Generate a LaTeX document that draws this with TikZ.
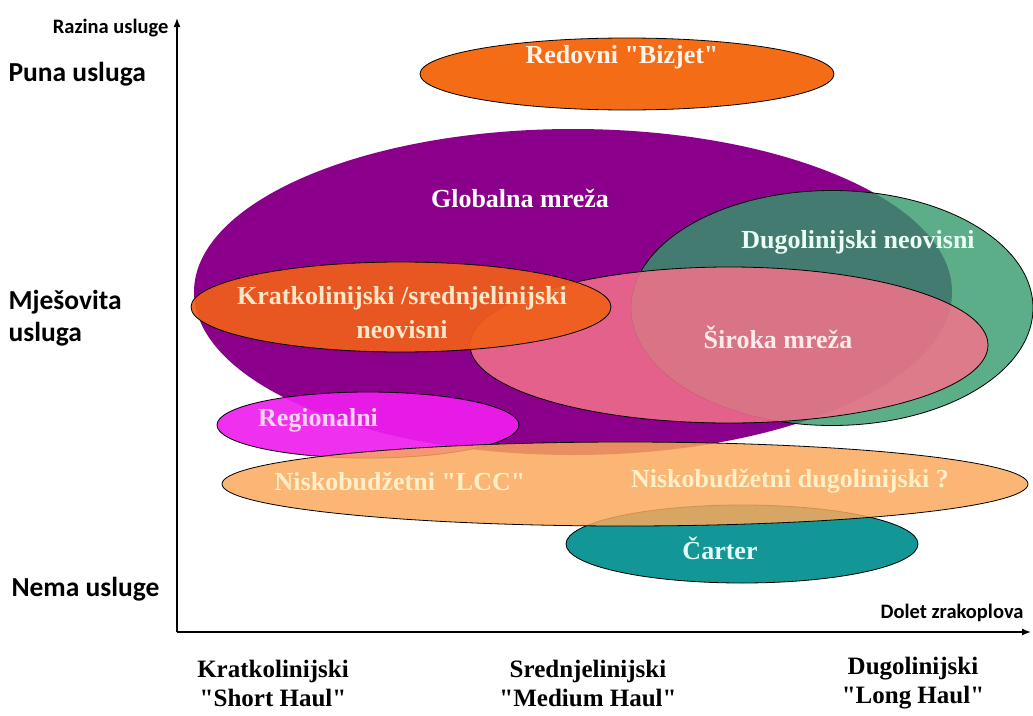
\documentclass[tikz,border=0pt]{standalone}
\usepackage{fontspec}
\setmainfont{Liberation Serif}[Ligatures=TeXOff]
\newfontfamily\calib{Carlito}[Ligatures=TeXOff]
\usetikzlibrary{arrows.meta, positioning, shapes.geometric}

\definecolor{ljubicasta}{RGB}{139,0,139}
\definecolor{zelena}{RGB}{50,154,106}
\definecolor{ruzicasta}{RGB}{244,115,140}
\definecolor{narancasta}{RGB}{240,95,25}
\definecolor{magenta}{RGB}{238,30,238}
\definecolor{svijetlonar}{RGB}{250,168,92}
\definecolor{tirkizna}{RGB}{18,150,150}
\definecolor{bizjet}{RGB}{245,108,22}

\begin{document}
\begin{tikzpicture}[x=1pt, y=-1pt,
    elipsa/.style={ellipse, inner sep=0pt, draw=black, line width=0.8pt},
    natpis/.style={font=\bfseries\fontsize{26}{34}\selectfont, align=center},
    razina/.style={font=\calib\bfseries\fontsize{27.5}{32}\selectfont, anchor=west},
    osi/.style={font=\calib\bfseries\fontsize{20.5}{24}\selectfont}]
    \useasboundingbox (0,0) rectangle (1033,715);

    % osi
    \coordinate (O) at (177,632);
    \coordinate (Y) at (177,18);
    \coordinate (X) at (1031,632);
    \draw[line width=1.4pt, -{Latex[length=9pt,width=7pt]}] (O) -- (Y);
    \draw[line width=1.4pt, -{Latex[length=9pt,width=7pt]}] (O) -- (X);
    \node[osi, anchor=east] (razinaOs) at (172,28) {Razina usluge};
    \node[osi, anchor=east] (doletOs) at (1027,613) {Dolet zrakoplova};

    % razine usluge
    \node[razina] (puna) at (5,74) {Puna usluga};
    \node[razina, align=left] (mjes) at (5,318) {Mješovita\\usluga};
    \node[razina] (nema) at (8,589) {Nema usluge};

    % dolet
    \foreach \x/\a/\b [count=\i] in {273/Kratkolinijski/"Short Haul", 588/Srednjelinijski/"Medium Haul", 913/Dugolinijski/"Long Haul"} {
        \node[font=\bfseries\fontsize{25}{29}\selectfont, align=center] (dolet\i) at (\x,683) {\a\\\b};
    }

    % elipse
    \node[elipsa, fill=bizjet, minimum width=414pt, minimum height=72pt] (bizjetE) at (627,74) {};
    \node[ellipse, fill=ljubicasta, minimum width=758pt, minimum height=326pt] (globalE) at (573,292) {};
    \node[elipsa, fill=zelena, fill opacity=0.8, minimum width=402pt, minimum height=235pt] (dugoE) at (832,308) {};
    \node[elipsa, fill=ruzicasta, fill opacity=0.85, minimum width=518pt, minimum height=156pt] (sirokaE) at (729,345) {};
    \node[elipsa, fill=narancasta, fill opacity=0.92, minimum width=420pt, minimum height=90pt] (kratkoE) at (401,307) {};
    \node[elipsa, fill=magenta, fill opacity=0.92, minimum width=302pt, minimum height=66pt] (regE) at (368,425) {};
    \node[elipsa, fill=tirkizna, minimum width=352pt, minimum height=78pt] (carterE) at (742,544) {};
    \node[elipsa, fill=svijetlonar, fill opacity=0.85, minimum width=806pt, minimum height=84pt] (niskoE) at (625,484) {};

    % natpisi
    \node[natpis, text={rgb,255:red,255;green,245;blue,235}] (bizjetT) at (622,57) {Redovni "Bizjet"};
    \node[natpis, text=white] (globalT) at (520,198) {Globalna mreža};
    \node[natpis, text={rgb,255:red,235;green,255;blue,245}] (dugoT) at (858,242) {Dugolinijski neovisni};
    \node[natpis, text={rgb,255:red,250;green,230;blue,200}] (kratkoT) at (402,313) {Kratkolinijski /srednjelinijski\\neovisni};
    \node[natpis, text={rgb,255:red,252;green,235;blue,235}] (sirokaT) at (778,337) {Široka mreža};
    \node[natpis, text={rgb,255:red,250;green,210;blue,245}] (regT) at (318,420) {Regionalni};
    \node[natpis, text={rgb,255:red,255;green,240;blue,200}] (niskoT1) at (400,481) {Niskobudžetni "LCC"};
    \node[natpis, text={rgb,255:red,255;green,240;blue,200}] (niskoT2) at (790,481) {Niskobudžetni dugolinijski ?};
    \node[natpis, text={rgb,255:red,225;green,255;blue,250}] (carterT) at (720,548) {Čarter};
\end{tikzpicture}
\end{document}
